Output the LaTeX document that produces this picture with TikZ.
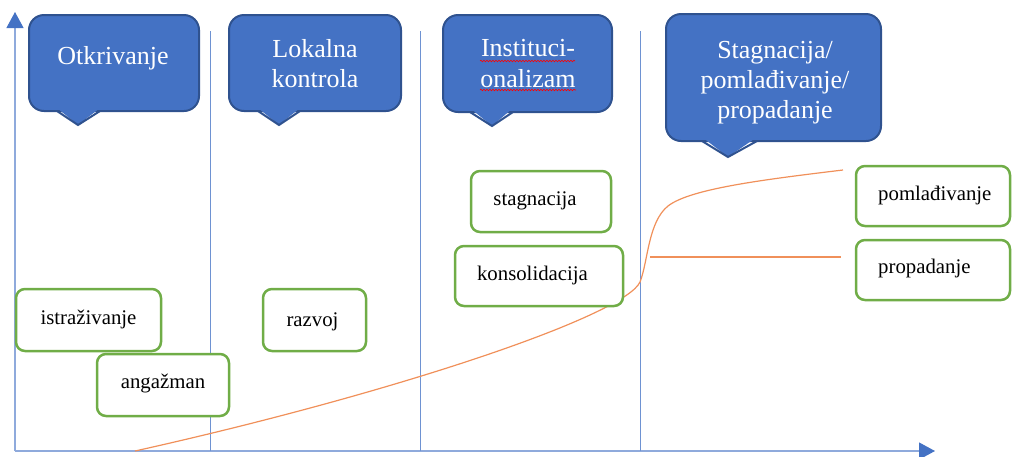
\documentclass[tikz,border=0pt]{standalone}
\usepackage{fontspec}
\setmainfont{Liberation Serif}
\usetikzlibrary{arrows.meta,decorations.pathmorphing,calc}
\definecolor{cf}{HTML}{4472C4}
\definecolor{cb}{HTML}{2F528F}
\definecolor{gr}{HTML}{70AD47}
\definecolor{ax}{HTML}{8FAADC}
\definecolor{dv}{HTML}{6E92D2}
\definecolor{orn}{HTML}{F0905A}
\tikzset{
  gbox/.style={draw=gr, line width=2.5pt, rounded corners=9pt, fill=white, inner sep=0pt},
  cbox/.style={draw=cb, fill=cf, line width=2pt, rounded corners=15pt, inner sep=0pt},
  ptr/.style={draw=cb, fill=cf, line width=2pt, line join=miter},
  ctext/.style={font=\fontsize{26}{30}\selectfont, text=white, anchor=base, inner sep=0pt},
  gtext/.style={font=\fontsize{20.8}{24}\selectfont, text=black, anchor=base, inner sep=0pt},
  axisline/.style={draw=ax, line width=1.2pt},
  axtip/.style={-{Triangle[length=16pt,width=17pt,color=cf]}},
  divider/.style={draw=dv, line width=0.9pt},
  curve/.style={draw=orn, line width=1.2pt},
  spell/.style={draw=red, line width=0.6pt, decorate, decoration={snake, amplitude=0.8pt, segment length=3pt}},
}
\begin{document}
\begin{tikzpicture}[x=1pt,y=-1pt]
\useasboundingbox (0,0) rectangle (1012,456);
% axes
\coordinate (o) at (15,451);
\coordinate (ytop) at (15,12);
\coordinate (xend) at (935,451);
\draw[axisline, axtip] (o) -- (ytop);
\draw[axisline, axtip] (o) -- (xend);
% dividers
\coordinate (d1t) at (210,31); \coordinate (d1b) at (210,451);
\coordinate (d2t) at (420,31); \coordinate (d2b) at (420,451);
\coordinate (d3t) at (640,31); \coordinate (d3b) at (640,451);
\draw[divider] (d1t) -- (d1b);
\draw[divider] (d2t) -- (d2b);
\draw[divider] (d3t) -- (d3b);
% curve
\coordinate (cs) at (135,451);
\coordinate (cm1) at (640,282);
\coordinate (cm2) at (668,206);
\coordinate (ce) at (843,170);
\coordinate (hs) at (650,257);
\coordinate (he) at (841,257);
\draw[curve] (cs) .. controls (400,392) and (625,315) .. (cm1)
  .. controls (648,262) and (648,222) .. (cm2)
  .. controls (690,189) and (760,180) .. (ce);
\draw[curve] (hs) -- (he);
% callouts
\node[cbox, minimum width=170pt, minimum height=96pt] (c1) at (114,63) {};
\fill[cf] (57,108) -- (78,125) -- (100,108) -- cycle;
\draw[ptr, fill=none] (57,111) -- (78,125) -- (100,111);
\node[ctext] (t1) at (113,64) {Otkrivanje};

\node[cbox, minimum width=172pt, minimum height=96pt] (c2) at (315,63) {};
\fill[cf] (258,108) -- (279,125) -- (300,108) -- cycle;
\draw[ptr, fill=none] (258,111) -- (279,125) -- (300,111);
\node[ctext] (t2a) at (315,57) {Lokalna};
\node[ctext] (t2b) at (315,87) {kontrola};

\node[cbox, minimum width=169pt, minimum height=97pt] (c3) at (527.5,63.5) {};
\fill[cf] (470,108) -- (492,126) -- (513,108) -- cycle;
\draw[ptr, fill=none] (470,112) -- (492,126) -- (513,112);
\node[ctext] (t3a) at (528,56) {Instituci-};
\node[ctext] (t3b) at (528,87) {onalizam};
\coordinate (s1a) at (480,61); \coordinate (s1b) at (575,61);
\coordinate (s2a) at (480,90); \coordinate (s2b) at (576,90);
\draw[spell] (s1a) -- (s1b);
\draw[spell] (s2a) -- (s2b);

\node[cbox, minimum width=215pt, minimum height=127pt] (c4) at (773.5,77.5) {};
\fill[cf] (702,137) -- (728,157) -- (757,137) -- cycle;
\draw[ptr, fill=none] (702,141) -- (728,157) -- (757,141);
\node[ctext] (t4a) at (775,58) {Stagnacija/};
\node[ctext] (t4b) at (775,88) {pomlađivanje/};
\node[ctext] (t4c) at (775,118) {propadanje};
% green boxes
\node[gbox, minimum width=145pt, minimum height=62pt] (b1) at (88.5,320) {};
\node[gtext] (g1) at (88.5,324) {istraživanje};
\node[gbox, minimum width=132pt, minimum height=62pt] (b2) at (163,385) {};
\node[gtext] (g2) at (163,388) {angažman};
\node[gbox, minimum width=103pt, minimum height=62pt] (b3) at (314.5,320) {};
\node[gtext] (g3) at (312.5,326) {razvoj};
\node[gbox, minimum width=140pt, minimum height=61pt] (b4) at (541,201.5) {};
\node[gtext] (g4) at (535,205) {stagnacija};
\node[gbox, minimum width=168pt, minimum height=60pt] (b5) at (539,276) {};
\node[gtext] (g5) at (532.5,280) {konsolidacija};
\node[gbox, minimum width=154pt, minimum height=60pt] (b6) at (933,196) {};
\node[gtext, anchor=base west] (g6) at (878,200) {pomlađivanje};
\node[gbox, minimum width=154pt, minimum height=60pt] (b7) at (933,270) {};
\node[gtext, anchor=base west] (g7) at (878,273) {propadanje};
\end{tikzpicture}
\end{document}
